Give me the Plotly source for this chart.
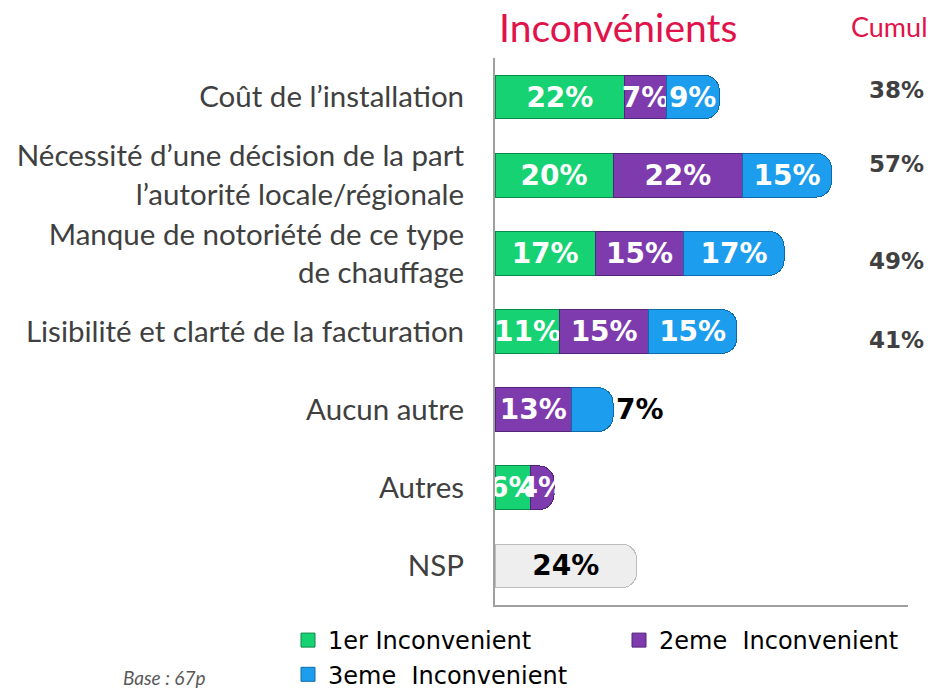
import plotly.graph_objects as go

categories = [
    "Coût de l’installation",
    "Nécessité d’une décision de la part<br>l’autorité locale/régionale",
    "Manque de notoriété de ce type<br>de chauffage",
    "Lisibilité et clarté de la facturation",
    "Aucun autre",
    "Autres",
    "NSP",
]
first = [22, 20, 17, 11, None, 6, None]
second = [7, 22, 15, 15, 13, 4, None]
third = [9, 15, 17, 15, 7, None, None]
nsp = [None, None, None, None, None, None, 24]
cumul = [38, 57, 49, 41, None, None, None]

series_names = ["1er Inconvenient", "2eme\u00a0\u00a0Inconvenient", "3eme\u00a0\u00a0Inconvenient"]
colors = ["#16D273", "#7E3BAE", "#1C9DEE"]
line_colors = ["#0A8A48", "#52247A", "#0F6BA8"]
# vertical nudges (px) of the cumul labels, as placed in the reference
cumul_nudge = [7, 11, -8, -8, 0, 0, 0]

# plot area in pixels (for converting reference positions to paper coords)
L, R, T, B = 495, 908, 58, 605
def px(x):
    return (x - L) / (R - L)
def py(y):
    return (B - y) / (B - T)

def labels(vals):
    return ["" if v is None else f"{v}%" for v in vals]

fig = go.Figure()
for idx, (vals, name, col, lc) in enumerate(zip([first, second, third], series_names, colors, line_colors)):
    tcolors = ["white"] * len(vals)
    tpos = ["inside"] * len(vals)
    if idx == 2:
        tcolors[4] = "black"
        tpos[4] = "outside"
    fig.add_trace(go.Bar(
        y=categories, x=vals, name=name, orientation="h", showlegend=False,
        marker=dict(color=col, line=dict(color=lc, width=1)),
        text=labels(vals), textposition=tpos, textangle=0,
        textfont=dict(family="DejaVu Sans", size=28, color=tcolors, weight="bold"),
        insidetextanchor="middle", constraintext="none",
        cliponaxis=False,
    ))
fig.add_trace(go.Bar(
    y=categories, x=nsp, name="NSP", orientation="h", showlegend=False,
    marker=dict(color="#EEEEEE", line=dict(color="#BDBDBD", width=1)),
    text=labels(nsp), textposition="inside", textangle=0,
    textfont=dict(family="DejaVu Sans", size=28, color="black", weight="bold"),
    insidetextanchor="middle", constraintext="none",
))

# legend entries with square keys
for name, col, lc in zip(series_names, colors, line_colors):
    fig.add_trace(go.Scatter(
        x=[None], y=[None], mode="markers", name=name,
        marker=dict(symbol="square", size=14, color=col, line=dict(color=lc, width=1)),
    ))

for cat, c, nudge in zip(categories, cumul, cumul_nudge):
    if c is None:
        continue
    fig.add_annotation(x=px(926), xref="paper", y=cat, yref="y", text=f"<b>{c}%</b>",
                       showarrow=False, xanchor="right", yshift=nudge,
                       font=dict(family="DejaVu Sans", size=23, color="#404040"))

fig.add_annotation(text="Inconvénients", xref="paper", yref="paper",
                   x=px(618), y=py(27), showarrow=False, xanchor="center", yanchor="middle",
                   font=dict(family="Lato", size=39, color="#E0134A"))
fig.add_annotation(text="Cumul", xref="paper", yref="paper",
                   x=px(930), y=py(27), showarrow=False, xanchor="right", yanchor="middle",
                   font=dict(family="Lato", size=27, color="#E0134A"))
fig.add_annotation(text="<i>Base : 67p</i>", xref="paper", yref="paper",
                   x=px(164), y=py(677), showarrow=False, xanchor="center", yanchor="middle",
                   font=dict(family="Lato", size=19, color="#595959"))

fig.update_layout(
    width=935, height=690,
    margin=dict(l=L, r=935 - R, t=T, b=690 - B, autoexpand=False),
    paper_bgcolor="white", plot_bgcolor="white",
    barmode="stack", bargap=0.44, barcornerradius=15,
    uniformtext=dict(mode="show", minsize=28),
    font=dict(family="Lato", color="#404040"),
    xaxis=dict(range=[0, 70], showgrid=False, showticklabels=False, ticks="",
               showline=True, linecolor="#A0A0A0", linewidth=2, zeroline=False, fixedrange=True),
    yaxis=dict(autorange="reversed", showgrid=False, showline=True, linecolor="#A0A0A0",
               linewidth=2, ticks="", ticklabelstandoff=23,
               tickfont=dict(family="Lato", size=29.5, color="#404040")),
    legend=dict(orientation="h", xref="paper", yref="paper", x=px(288), y=py(618),
                xanchor="left", yanchor="top", entrywidth=286, entrywidthmode="pixels",
                traceorder="normal",
                font=dict(family="DejaVu Sans", size=24, color="black"), itemwidth=30,
                tracegroupgap=0),
)

fig.write_html("out.html", config={"displayModeBar": False},
               post_script="document.body.style.margin='0';")
